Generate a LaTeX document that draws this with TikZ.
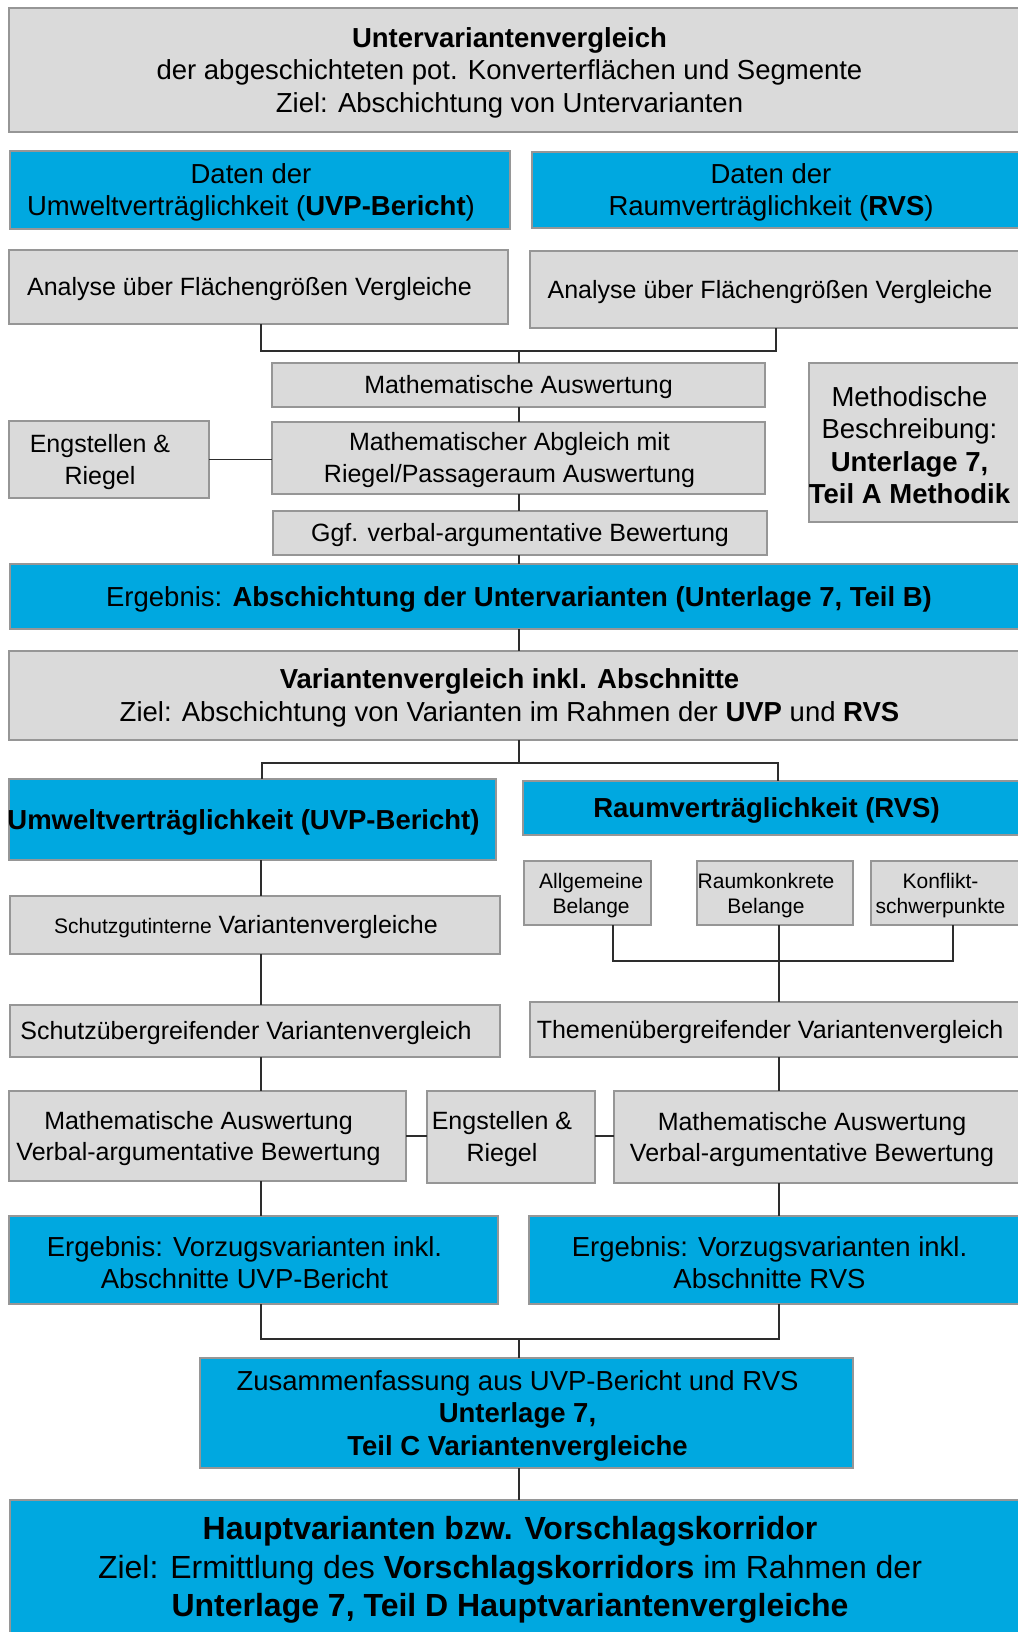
\documentclass[tikz,border=0pt]{standalone}
\usepackage{fontspec}
\setmainfont{Liberation Sans}
\definecolor{ublue}{RGB}{0,168,224}
\definecolor{gfill}{RGB}{218,218,218}
\definecolor{gline}{RGB}{150,150,150}
\definecolor{cline}{RGB}{45,45,45}
\tikzset{
  box/.style={draw=gline, line width=1.3pt, rectangle, inner sep=0pt, outer sep=0pt},
  gbox/.style={box, fill=gfill},
  bbox/.style={box, fill=ublue},
  lbl/.style={align=center, inner sep=0pt, xshift=-9pt, yshift=-2.5pt, font=\fontsize{25}{32}\selectfont},
  t/.style={label={[lbl]center:{#1}}},
  tL/.style={label={[lbl, font=\fontsize{27.5}{32.5}\selectfont]center:{#1}}},
  tS/.style={label={[lbl, font=\fontsize{21}{25}\selectfont]center:{#1}}},
  tM/.style={label={[lbl, font=\fontsize{25}{31}\selectfont]center:{#1}}},
  tC/.style={label={[lbl, xshift=9pt]center:{#1}}},
  conn/.style={draw=cline, line width=1.5pt}
}
\begin{document}
\begin{tikzpicture}[x=1pt,y=-1pt]
  \fill[white] (0,0) rectangle (1017,1632);
  \useasboundingbox (0,0) rectangle (1017,1632);

  \node[gbox, minimum width=1019, minimum height=124,
    tL={\textbf{Untervariantenvergleich}\\der abgeschichteten pot. Konverterflächen  und Segmente\\Ziel: Abschichtung von Untervarianten}] (top) at (518.5,70) {};
  \node[bbox, minimum width=500, minimum height=78,
    tL={Daten der\\Umweltverträglichkeit  (\textbf{UVP-Bericht})}] (datU) at (260,190) {};
  \node[bbox, minimum width=496, minimum height=76,
    tL={Daten der\\Raumverträglichkeit  (\textbf{RVS})}] (datR) at (780,190) {};
  \node[gbox, minimum width=499, minimum height=74,
    t={Analyse über Flächengrößen Vergleiche}] (anaU) at (258.5,287) {};
  \node[gbox, minimum width=498, minimum height=77,
    t={Analyse über Flächengrößen Vergleiche}] (anaR) at (779,289.5) {};
  \node[gbox, minimum width=493, minimum height=44,
    tC={Mathematische Auswertung}] (mathA) at (518.5,385) {};
  \node[gbox, minimum width=493, minimum height=72,
    t={Mathematischer Abgleich  mit\\Riegel/Passageraum Auswertung}] (abgl) at (518.5,458) {};
  \node[gbox, minimum width=200, minimum height=77,
    t={Engstellen \&\\Riegel}] (engA) at (109,459.5) {};
  \node[gbox, minimum width=494, minimum height=44,
    tC={Ggf. verbal-argumentative  Bewertung}] (ggf) at (520,533) {};
  \node[gbox, minimum width=219, minimum height=159,
    tL={Methodische\\Beschreibung:\\\textbf{Unterlage 7,}\\\textbf{Teil A Methodik}}] (meth) at (918.5,442.5) {};
  \node[bbox, minimum width=1018, minimum height=65,
    label={[lbl, xshift=9pt, font=\fontsize{27.5}{32.5}\selectfont]center:{Ergebnis: \textbf{Abschichtung der Untervarianten (Unterlage 7, Teil B)}}}] (ergA) at (519,596.5) {};

  \node[gbox, minimum width=1019, minimum height=89,
    tL={\textbf{Variantenvergleich inkl. Abschnitte}\\Ziel: Abschichtung  von Varianten im Rahmen  der \textbf{UVP} und \textbf{RVS}}] (var) at (518.5,695.5) {};
  \node[bbox, minimum width=487, minimum height=81,
    tL={\textbf{Umweltverträglichkeit (UVP-Bericht)}}] (uvp) at (252.5,819.5) {};
  \node[bbox, minimum width=505, minimum height=54,
    tL={\textbf{Raumverträglichkeit (RVS)}}] (rvs) at (775.5,808) {};
  \node[gbox, minimum width=127, minimum height=64,
    label={[lbl, xshift=12.6pt, font=\fontsize{21}{25}\selectfont]center:{Allgemeine\\Belange}}] (allg) at (587.5,893) {};
  \node[gbox, minimum width=156, minimum height=64,
    tS={Raumkonkrete\\Belange}] (raum) at (775,893) {};
  \node[gbox, minimum width=157, minimum height=64,
    tS={Konflikt-\\schwerpunkte}] (konf) at (949.5,893) {};
  \node[gbox, minimum width=490, minimum height=58,
    t={{\fontsize{21}{25}\selectfont Schutzgutinterne} Variantenvergleiche}] (sgi) at (255,925) {};
  \node[gbox, minimum width=490, minimum height=52,
    t={Schutzübergreifender Variantenvergleich}] (sgu) at (255,1031) {};
  \node[gbox, minimum width=498, minimum height=55,
    t={Themenübergreifender Variantenvergleich}] (thema) at (779,1029.5) {};
  \node[gbox, minimum width=397, minimum height=90,
    tM={Mathematische Auswertung\\Verbal-argumentative  Bewertung}] (mavL) at (207.5,1136) {};
  \node[gbox, minimum width=168, minimum height=92,
    t={Engstellen \&\\Riegel}] (engB) at (511,1137) {};
  \node[gbox, minimum width=414, minimum height=92,
    tM={Mathematische Auswertung\\Verbal-argumentative  Bewertung}] (mavR) at (821,1137) {};
  \node[bbox, minimum width=489, minimum height=88,
    tL={Ergebnis: Vorzugsvarianten  inkl.\\Abschnitte UVP-Bericht}] (ergU) at (253.5,1260) {};
  \node[bbox, minimum width=499, minimum height=88,
    tL={Ergebnis: Vorzugsvarianten  inkl.\\Abschnitte RVS}] (ergR) at (778.5,1260) {};
  \node[bbox, minimum width=653, minimum height=110,
    tL={Zusammenfassung  aus UVP-Bericht und RVS\\\textbf{Unterlage 7,}\\\textbf{Teil C Variantenvergleiche}}] (zus) at (526.5,1413) {};
  \node[bbox, minimum width=1018, minimum height=140,
    label={[lbl, yshift=2.5pt, font=\fontsize{32}{38.5}\selectfont]center:{\textbf{Hauptvarianten bzw. Vorschlagskorridor}\\Ziel: Ermittlung des \textbf{Vorschlagskorridors} im Rahmen der\\\textbf{Unterlage 7, Teil D Hauptvariantenvergleiche}}}] (haupt) at (519,1570) {};

  \coordinate (colL) at (261,0);
  \coordinate (colM) at (519,0);
  \coordinate (colR) at (779,0);
  \coordinate (jA) at (519,351);
  \coordinate (jB) at (519,763);
  \coordinate (jC) at (613,961);
  \coordinate (jD) at (519,1339);

  \draw[conn] (anaU.south -| colL) |- (jA) -| (anaR.south -| 776,0);
  \draw[conn] (jA) -- (mathA.north -| colM);
  \draw[conn] (mathA.south -| colM) -- (abgl.north -| colM);
  \draw[conn] (abgl.south -| colM) -- (ggf.north -| colM);
  \draw[conn] (ggf.south -| colM) -- (ergA.north -| colM);
  \draw[conn] (engA.east) -- (abgl.west |- engA.east);
  \draw[conn] (ergA.south -| colM) -- (var.north -| colM);
  \draw[conn] (var.south -| colM) -- (jB);
  \draw[conn] (uvp.north -| 262,0) |- (jB) -| (rvs.north -| 778,0);
  \draw[conn] (uvp.south -| colL) -- (sgi.north -| colL);
  \draw[conn] (sgi.south -| colL) -- (sgu.north -| colL);
  \draw[conn] (sgu.south -| colL) -- (mavL.north -| colL);
  \draw[conn] (mavL.south -| colL) -- (ergU.north -| colL);
  \draw[conn] (allg.south -| jC) |- (konf.south |- jC) -| (konf.south -| 953,0);
  \draw[conn] (raum.south -| colR) -- (thema.north -| colR);
  \draw[conn] (thema.south -| colR) -- (mavR.north -| colR);
  \draw[conn] (mavR.south -| colR) -- (ergR.north -| colR);
  \draw[conn] (mavL.east |- 0,1136) -- (engB.west |- 0,1136);
  \draw[conn] (engB.east |- 0,1136) -- (mavR.west |- 0,1136);
  \draw[conn] (ergU.south -| colL) |- (jD) -| (ergR.south -| colR);
  \draw[conn] (jD) -- (zus.north -| colM);
  \draw[conn] (zus.south -| colM) -- (haupt.north -| colM);
\end{tikzpicture}
\end{document}
